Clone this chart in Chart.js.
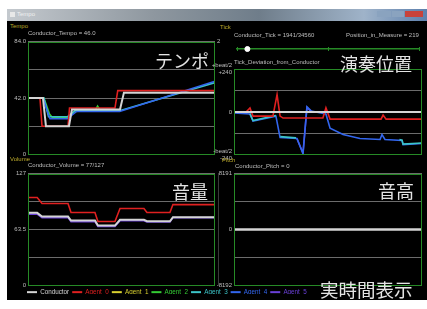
<!DOCTYPE html>
<html>
<head>
<meta charset="utf-8">
<script src="https://cdn.jsdelivr.net/npm/chart.js@4.4.1/dist/chart.umd.min.js"></script>
<style>
  body { margin: 0; width: 427px; height: 309px; overflow: hidden; position: relative; background: #fff; font-family: "Liberation Sans", sans-serif; }
  #titlebar { position: absolute; left: 7px; top: 9px; width: 420px; height: 12px;
    background: linear-gradient(90deg, #c4c9ce 0%, #8e979f 35%, #6f7d8a 60%, #9fb3c9 85%, #5d80ad 100%); }
  #titlebar .icon { position: absolute; left: 3px; top: 3px; width: 5px; height: 5px; background: #e8e8e8; }
  #titlebar .name { position: absolute; left: 10px; top: 2px; font-size: 6px; color: #f0f0f0; }
  #titlebar .btn { position: absolute; top: 2px; height: 6px; }
  #screen { position: absolute; left: 7px; top: 21px; width: 420px; height: 279px; background: #000; }
  canvas { position: absolute; }
  .lbl { position: absolute; font-size: 6px; line-height: 7px; color: #bdbdbd; white-space: nowrap; }
  .ax { color: #bba92a; }
  .big { position: absolute; font-family: "Noto Sans CJK JP", sans-serif; font-size: 18px; line-height: 20px; color: #e4e4e4; white-space: nowrap; }
  .vline { position: absolute; width: 1px; background: #3a3a3a; }
</style>
</head>
<body>
<div id="titlebar">
  <div class="icon"></div><div class="name">Tempo</div>
  <div class="btn" style="left:370px;width:14px;background:#8aa3bf"></div>
  <div class="btn" style="left:385px;width:12px;background:#8aa3bf"></div>
  <div class="btn" style="left:398px;width:18px;background:#c8423a"></div>
</div>
<div id="screen"></div>

<canvas id="tempoChart" width="212" height="124" style="left:5px;top:36px"></canvas>
<canvas id="tickBar" width="192" height="14" style="left:232px;top:42px"></canvas>
<canvas id="tickChart" width="212" height="104" style="left:212px;top:60px"></canvas>
<canvas id="volumeChart" width="212" height="123" style="left:5px;top:168px"></canvas>
<canvas id="pitchChart" width="212" height="123" style="left:212px;top:168px"></canvas>
<canvas id="legendChart" width="300" height="16" style="left:24px;top:286px"></canvas>

<div class="vline" style="left:218px;top:173px;height:112px"></div>

<div class="lbl ax" style="left:10px;top:23px">Tempo</div>
<div class="lbl" style="left:28px;top:30px">Conductor_Tempo = 46.0</div>
<div class="lbl" style="left:217px;top:38px">2</div>
<div class="lbl ax" style="left:220px;top:24px">Tick</div>
<div class="lbl" style="left:234px;top:32px">Conductor_Tick = 1941/34560</div>
<div class="lbl" style="left:346px;top:32px">Position_in_Measure = 219</div>
<div class="lbl" style="left:234px;top:59px">Tick_Deviation_from_Conductor</div>
<div class="lbl ax" style="left:10px;top:156px">Volume</div>
<div class="lbl" style="left:28px;top:162px">Conductor_Volume = 77/127</div>
<div class="lbl ax" style="left:222px;top:157px">Pitch</div>
<div class="lbl" style="left:235px;top:163px">Conductor_Pitch = 0</div>

<div class="big" style="left:155px;top:50px">テンポ</div>
<div class="big" style="left:340px;top:53px">演奏位置</div>
<div class="big" style="left:172px;top:181px">音量</div>
<div class="big" style="left:378px;top:180px">音高</div>
<div class="big" style="left:320px;top:279px;font-size:18.5px">実時間表示</div>

<script>
// series
const seriesNames = ['Conductor', 'Agent_0', 'Agent_1', 'Agent_2', 'Agent_3', 'Agent_4', 'Agent_5'];
const seriesColors = ['#d4d4d4', '#e02020', '#d8d030', '#34cc34', '#3cc4c8', '#3366ee', '#6a40d8'];

// tempo panel: [time, tempo]
const tempoTicks = [0, 21, 42, 63, 84];
const tempoTickLabels = ['0', '', '42.0', '', '84.0'];
const tempoConductor = [[0, 42], [8, 42], [9.6, 21], [21.9, 21], [23.5, 33.5], [49.2, 33.5], [51.3, 46], [100, 46]];
const tempoAgent0 = [[0, 42], [6.4, 42], [7.5, 21], [21.4, 21], [22.2, 34.5], [46.5, 34.5], [48, 47.5], [100, 47.5]];
const tempoAgent2 = [[0, 42], [8.5, 42], [11.5, 30], [13, 27.5], [21, 27.5], [25, 32], [36, 33], [37.2, 36], [38.5, 33], [49, 33]];
const tempoAgent3 = [[0, 42], [8.5, 42], [11, 28], [21, 28], [25, 32.5], [49, 32.5], [100, 53.5]];
const tempoAgent4 = [[0, 42], [8, 42], [11.8, 26.5], [21, 26.5], [26, 32], [49, 32], [100, 54.5]];

// tick deviation panel: [time, ticks]
const tickTicks = [-240, -120, 0, 120, 240];
const tickTickLabels = [['-beat/2', '-240'], '', '0', '', ['+beat/2', '+240']];
const tickConductor = [[0, 0], [100, 0]];
const tickAgent0 = [[0, 0], [6.4, 0], [8.5, 23], [10.1, -23], [20.7, -23], [22.9, 97], [24.5, -23], [26.1, -34], [47.3, -34],
  [48.9, 23], [51.1, -40], [78.2, -40], [79.3, -17], [80.9, -40], [100, -40]];
const tickAgent3 = [[8.5, -9], [10.1, -48], [22.3, -20], [23, null], [24.6, -138], [33, -145], [34, null], [88, -155], [89.4, -158],
  [89.9, -180], [100, -174]];
const tickAgent4 = [[0, -6], [8.5, -11], [10.1, -51], [22.3, -23], [24.5, -143], [33.5, -149], [36.7, -234], [38.8, 29], [41, 6],
  [48.9, -11], [51.1, -91], [58, -126], [67, -149], [77.7, -154], [78.7, -126], [80.3, -154], [89.4, -160], [89.9, -183], [100, -177]];
const tickAgent5 = [[33.5, -150], [36.7, -230], [38.8, 25], [41, 4]];

// position in measure strip
const measureLength = 3840;
const positionInMeasure = 219;

// volume panel: [time, velocity]
const volumeTicks = [0, 31.75, 63.5, 95.25, 127];
const volumeTickLabels = ['0', '', '63.5', '', '127'];
const volumeConductor = [[0, 82.4], [4.9, 82.4], [7.5, 78.2], [21.4, 78.2], [23, 73.7], [35.8, 73.7], [37.4, 68], [46.5, 68],
  [49.2, 74.5], [62, 74.5], [63.6, 72.9], [75.9, 72.9], [77.5, 77.5], [100, 77.5]];
const volumeAgent0 = [[0, 99.8], [4.9, 99.8], [7.5, 93], [21.4, 93], [23, 82.8], [35.8, 82.8], [37.4, 72.6], [46.5, 72.6],
  [49.2, 87.3], [62, 87.3], [63.6, 82.8], [75.9, 82.8], [77.5, 91.8], [100, 91.8]];
const volumeAgent5 = [[0, 81], [4.9, 81], [7.5, 77], [21.4, 77], [23, 72.5], [35.8, 72.5], [37.4, 67], [46.5, 67],
  [49.2, 73.5], [62, 73.5], [63.6, 72], [75.9, 72], [77.5, 77], [100, 77]];

// pitch panel: [time, pitch bend]
const pitchTicks = [-8192, -4096, 0, 4096, 8191];
const pitchTickLabels = ['-8192', '', '0', '', '8191'];
const pitchConductor = [[0, 0], [100, 0]];

const frameColor = '#268a26';
const gridColor = '#6c6c6c';
const labelFont = { size: 6, family: 'Liberation Sans' };

// green box round the plot area
const framePlugin = {
  id: 'frame',
  afterDraw(chart) {
    const a = chart.chartArea;
    const ctx = chart.ctx;
    ctx.save();
    ctx.strokeStyle = frameColor;
    ctx.lineWidth = 1;
    ctx.strokeRect(Math.round(a.left) + 0.5, Math.round(a.top) + 0.5, Math.round(a.right - a.left) - 1, Math.round(a.bottom - a.top) - 1);
    ctx.restore();
  }
};

function line(pairs, idx, width) {
  return {
    label: seriesNames[idx],
    data: pairs.map(p => ({ x: p[0], y: p[1] })),
    borderColor: seriesColors[idx],
    borderWidth: width || 1.6,
    pointRadius: 0,
    tension: 0,
    spanGaps: false
  };
}

function panelChart(id, datasets, ticks, tickLabels, axisWidth) {
  return new Chart(document.getElementById(id), {
    type: 'line',
    data: { datasets: datasets },
    options: {
      responsive: false,
      animation: false,
      events: [],
      layout: { padding: { left: 0, right: 2, top: 0, bottom: 0 } },
      plugins: { legend: { display: false }, tooltip: { enabled: false } },
      scales: {
        x: { type: 'linear', min: 0, max: 100, display: false },
        y: {
          min: ticks[0],
          max: ticks[ticks.length - 1],
          afterBuildTicks: scale => { scale.ticks = ticks.map(v => ({ value: v })); },
          afterFit: scale => { scale.width = axisWidth; },
          ticks: { color: '#bdbdbd', font: labelFont, padding: 2, autoSkip: false, callback: (v, i) => tickLabels[i] },
          grid: { color: gridColor, drawTicks: false },
          border: { display: false }
        }
      }
    },
    plugins: [framePlugin]
  });
}

// datasets listed first are drawn on top
panelChart('tempoChart', [
  line(tempoConductor, 0, 2),
  line(tempoAgent0, 1),
  line(tempoAgent4, 5),
  line(tempoAgent3, 4),
  line(tempoAgent2, 3)
], tempoTicks, tempoTickLabels, 23);

panelChart('tickChart', [
  line(tickConductor, 0, 2),
  line(tickAgent0, 1),
  line(tickAgent3, 4),
  line(tickAgent4, 5),
  line(tickAgent5, 6)
], tickTicks, tickTickLabels, 22);

panelChart('volumeChart', [
  line(volumeConductor, 0, 2),
  line(volumeAgent0, 1),
  line(volumeAgent5, 6)
], volumeTicks, volumeTickLabels, 23);

panelChart('pitchChart', [
  line(pitchConductor, 0, 2.5)
], pitchTicks, pitchTickLabels, 22);

// position in measure bar: axis line at y = 0, caps from the x grid
new Chart(document.getElementById('tickBar'), {
  type: 'scatter',
  data: { datasets: [{ data: [{ x: positionInMeasure, y: 0 }], backgroundColor: '#ffffff', borderColor: '#ffffff', pointRadius: 2.5, clip: false }] },
  options: {
    responsive: false,
    animation: false,
    events: [],
    layout: { padding: { left: 2, right: 2, top: 3, bottom: 2 } },
    plugins: { legend: { display: false }, tooltip: { enabled: false } },
    scales: {
      x: {
        min: 0, max: measureLength,
        position: { y: 0 },
        ticks: { display: false, stepSize: measureLength / 2 },
        grid: { color: frameColor, drawTicks: false },
        border: { display: true, color: frameColor, width: 1.5 }
      },
      y: {
        min: -1, max: 1,
        display: false
      }
    }
  }
});

// shared legend
new Chart(document.getElementById('legendChart'), {
  type: 'line',
  data: { datasets: seriesNames.map((n, i) => ({ label: n, data: [], borderColor: seriesColors[i], backgroundColor: seriesColors[i] })) },
  options: {
    responsive: false,
    animation: false,
    events: [],
    scales: { x: { display: false }, y: { display: false } },
    plugins: {
      tooltip: { enabled: false },
      legend: {
        position: 'top',
        align: 'start',
        labels: {
          font: { size: 6.3, family: 'Liberation Sans' },
          boxWidth: 10,
          boxHeight: 2,
          padding: 3,
          generateLabels: chart => chart.data.datasets.map((d, i) => ({
            text: d.label,
            fillStyle: d.borderColor,
            strokeStyle: d.borderColor,
            lineWidth: 0,
            fontColor: d.borderColor,
            hidden: false,
            datasetIndex: i
          }))
        }
      }
    }
  }
});
</script>
</body>
</html>
